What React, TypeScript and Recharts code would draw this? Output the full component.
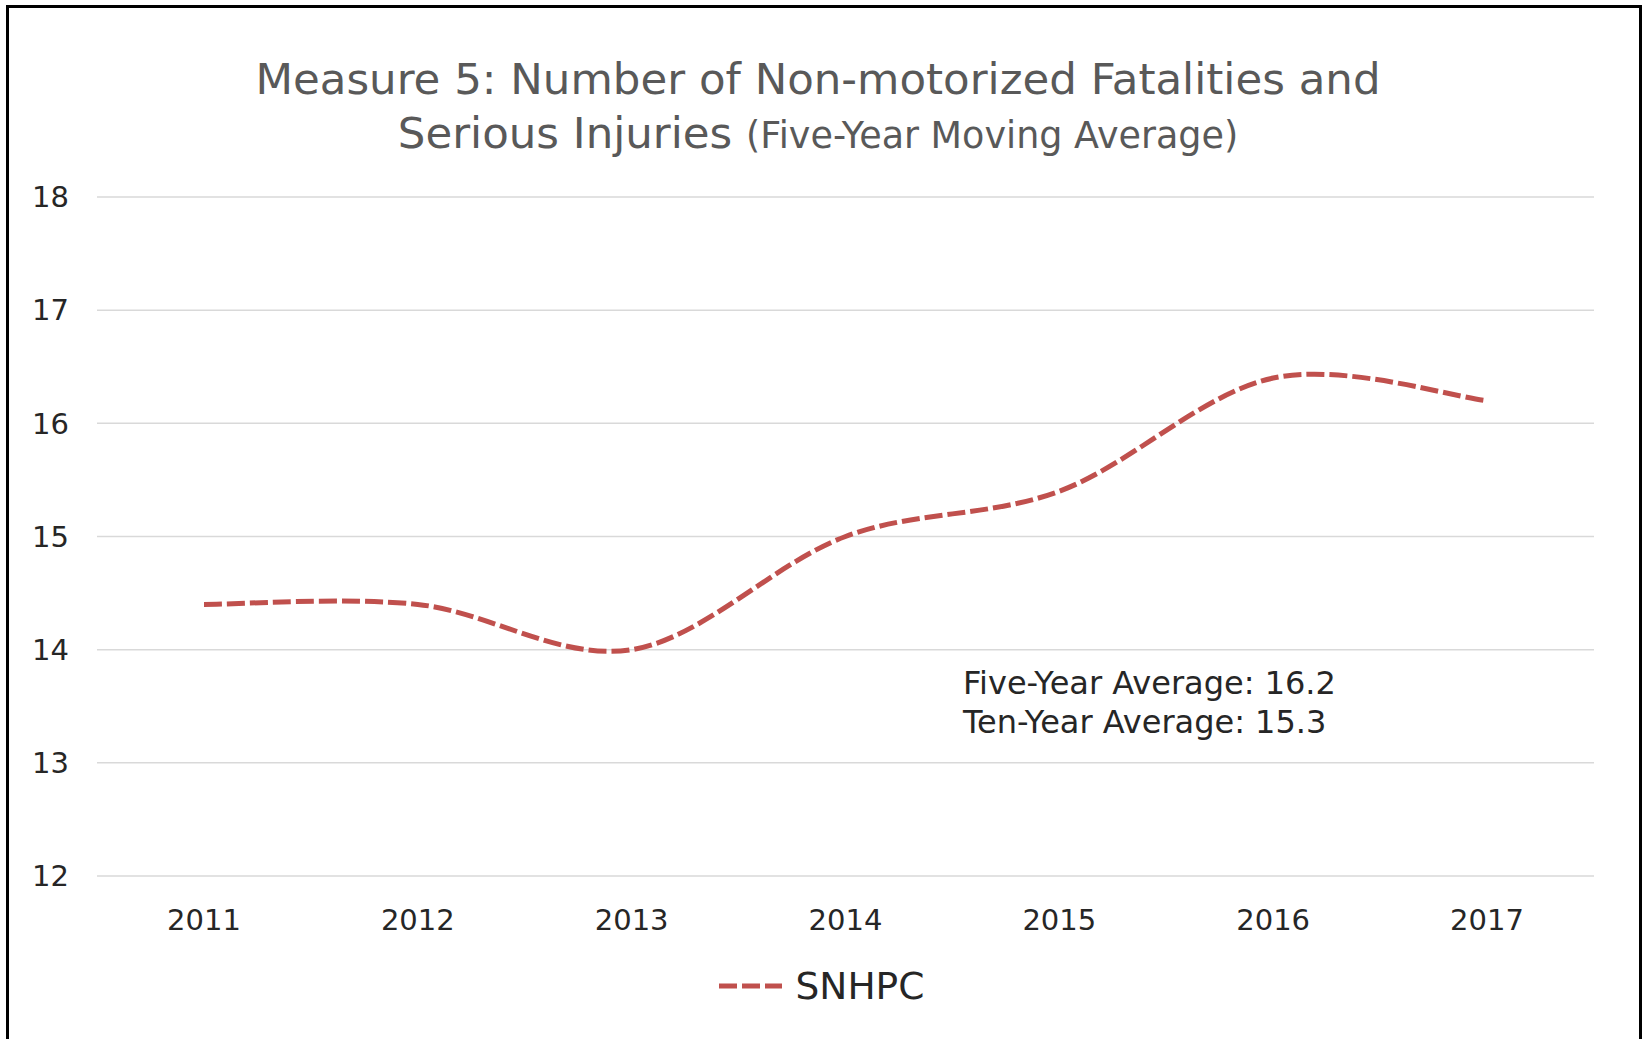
import { LineChart, Line, XAxis, YAxis, CartesianGrid } from 'recharts'

const YEARS = ['2011', '2012', '2013', '2014', '2015', '2016', '2017']
const SNHPC = [14.4, 14.4, 14.0, 15.0, 15.4, 16.4, 16.2]
const Y_TICKS = [12, 13, 14, 15, 16, 17, 18]
const NOTES = ['Five-Year Average: 16.2', 'Ten-Year Average: 15.3']

const data = YEARS.map((year, i) => ({ year, SNHPC: SNHPC[i] }))

const FONT = "'DejaVu Sans', sans-serif"
const RED = '#C0504D'

// Excel-style smoothed line (Catmull-Rom through every point)
function smoothCurve(context: any) {
  let pts: [number, number][] = []
  return {
    areaStart() {},
    areaEnd() {},
    lineStart() {
      pts = []
    },
    lineEnd() {
      if (!pts.length) return
      context.moveTo(pts[0][0], pts[0][1])
      for (let i = 0; i < pts.length - 1; i++) {
        const p0 = pts[Math.max(i - 1, 0)]
        const p1 = pts[i]
        const p2 = pts[i + 1]
        const p3 = pts[Math.min(i + 2, pts.length - 1)]
        context.bezierCurveTo(
          p1[0] + (p2[0] - p0[0]) / 6,
          p1[1] + (p2[1] - p0[1]) / 6,
          p2[0] - (p3[0] - p1[0]) / 6,
          p2[1] - (p3[1] - p1[1]) / 6,
          p2[0],
          p2[1],
        )
      }
    },
    point(x: number, y: number) {
      pts.push([x, y])
    },
  }
}

export default function App() {
  return (
    <div style={{ position: 'absolute', left: 0, top: 0, width: 1643, height: 1039, background: '#fff', overflow: 'hidden', fontFamily: FONT }}>
      <div style={{ position: 'absolute', left: 6, top: 5, width: 1630, height: 1100, border: '3px solid #000' }} />

      <div style={{ position: 'absolute', left: 0, top: 52, width: 1636, textAlign: 'center', color: '#595959', fontSize: 43.5, lineHeight: '54px', whiteSpace: 'nowrap' }}>
        <div>Measure 5: Number of Non-motorized Fatalities and</div>
        <div>
          Serious Injuries <span style={{ fontSize: 36.5 }}>(Five-Year Moving Average)</span>
        </div>
      </div>

      <LineChart
        width={1643}
        height={1039}
        data={data}
        margin={{ top: 197, right: 49, bottom: 103, left: 0 }}
        style={{ position: 'absolute', left: 0, top: 0 }}
      >
        <CartesianGrid vertical={false} stroke='#D9D9D9' strokeWidth={1.5} />
        <XAxis
          dataKey='year'
          axisLine={false}
          tickLine={false}
          tickSize={0}
          tickMargin={33}
          height={60}
          padding={{ left: 107, right: 107 }}
          tick={{ fill: '#262626', fontSize: 29, fontFamily: FONT }}
          interval={0}
        />
        <YAxis
          domain={[12, 18]}
          ticks={Y_TICKS}
          axisLine={false}
          tickLine={false}
          tickSize={0}
          tickMargin={28}
          width={97}
          tick={{ fill: '#262626', fontSize: 29, fontFamily: FONT }}
        />
        <Line
          dataKey='SNHPC'
          type={smoothCurve as any}
          stroke={RED}
          strokeWidth={5}
          strokeDasharray='18 5'
          dot={false}
          activeDot={false}
          isAnimationActive={false}
        />
      </LineChart>

      <div style={{ position: 'absolute', left: 963, top: 664, color: '#262626', fontSize: 32, lineHeight: '39px', whiteSpace: 'nowrap' }}>
        {NOTES.map((n) => (
          <div key={n}>{n}</div>
        ))}
      </div>

      <div style={{ position: 'absolute', left: 0, top: 962, width: 1643, display: 'flex', justifyContent: 'center', alignItems: 'center', gap: 14, color: '#262626', fontSize: 37.5 }}>
        <svg width={63} height={10}>
          <line x1={0} y1={5} x2={63} y2={5} stroke={RED} strokeWidth={5} strokeDasharray='18 5' />
        </svg>
        <span style={{ lineHeight: '48px' }}>SNHPC</span>
      </div>
    </div>
  )
}
